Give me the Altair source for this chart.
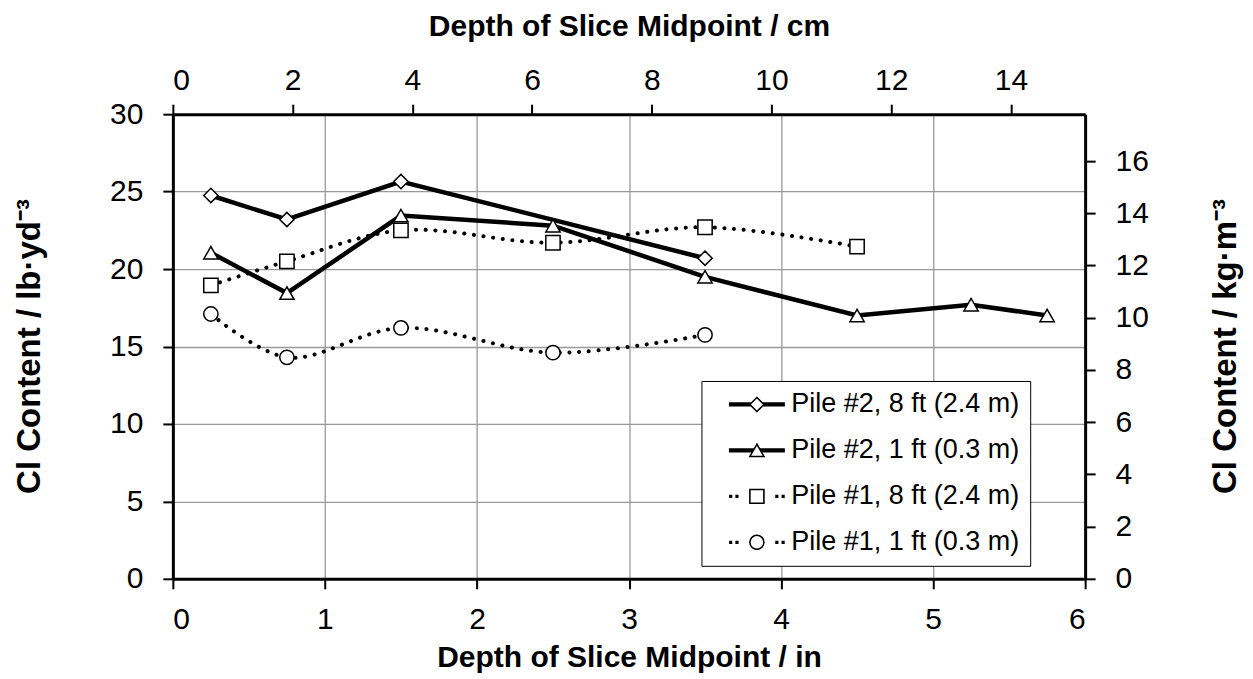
import altair as alt
import pandas as pd

series_names = ["Pile #2, 8 ft (2.4 m)", "Pile #2, 1 ft (0.3 m)",
                "Pile #1, 8 ft (2.4 m)", "Pile #1, 1 ft (0.3 m)"]

p2_8_depth = [0.25, 0.75, 1.5, 3.5]
p2_8_cl = [24.75, 23.2, 25.65, 20.7]
p2_1_depth = [0.25, 0.75, 1.5, 2.5, 3.5, 4.5, 5.25, 5.75]
p2_1_cl = [21.05, 18.45, 23.45, 22.8, 19.5, 17.0, 17.7, 17.0]
p1_8_depth = [0.25, 0.75, 1.5, 2.5, 3.5, 4.5]
p1_8_cl = [18.95, 20.5, 22.5, 21.7, 22.7, 21.45]
p1_1_depth = [0.25, 0.75, 1.5, 2.5, 3.5]
p1_1_cl = [17.1, 14.3, 16.2, 14.6, 15.75]

x_ticks_in = [0, 1, 2, 3, 4, 5, 6]
y_ticks_lb = [0, 5, 10, 15, 20, 25, 30]
x_ticks_cm = [0, 2, 4, 6, 8, 10, 12, 14]
y_ticks_kg = [0, 2, 4, 6, 8, 10, 12, 14, 16]

IN_TO_CM = 2.54
LB_TO_KG = 0.593276

rows = []
for name, xs, ys in zip(series_names,
                        [p2_8_depth, p2_1_depth, p1_8_depth, p1_1_depth],
                        [p2_8_cl, p2_1_cl, p1_8_cl, p1_1_cl]):
    for i, (a, b) in enumerate(zip(xs, ys)):
        rows.append({"series": name, "depth": a, "cl": b, "order": i,
                     "cm": a * IN_TO_CM, "kg": b * LB_TO_KG})
df = pd.DataFrame(rows)

solid_df = df[df["series"].str.startswith("Pile #2")]
dotted_df = df[df["series"].str.startswith("Pile #1")]

FONT = "Liberation Sans"
XDOM = [0, 6]
YDOM = [0, 30]

x_main = alt.X("depth:Q", scale=alt.Scale(domain=XDOM, nice=False),
               axis=alt.Axis(values=x_ticks_in, format="d", grid=True,
                             title="Depth of Slice Midpoint / in",
                             labelPadding=16, titleY=88,
                             titleBaseline="alphabetic"))
y_main = alt.Y("cl:Q", scale=alt.Scale(domain=YDOM, nice=False),
               axis=alt.Axis(values=y_ticks_lb, format="d", grid=True,
                             title="Cl Content / lb·yd⁻³", titleFontSize=33,
                             labelPadding=20, titleAngle=270, titleX=-143,
                             titleY=232, titleBaseline="middle",
                             titleAlign="center"))
x_plain = alt.X("depth:Q", scale=alt.Scale(domain=XDOM, nice=False), axis=None)
y_plain = alt.Y("cl:Q", scale=alt.Scale(domain=YDOM, nice=False), axis=None)

solid = alt.Chart(solid_df).mark_line(
    color="black", strokeWidth=4.5
).encode(x=x_main, y=y_main, detail="series:N", order="order:Q")

dotted = alt.Chart(dotted_df).mark_line(
    color="black", strokeWidth=4, strokeDash=[0.1, 9.6], strokeCap="round",
    interpolate="catmull-rom"
).encode(x=x_plain, y=y_plain, detail="series:N", order="order:Q")

LEG_COMMON = dict(title=None, orient="none", legendX=529, legendY=267,
                  padding=10, symbolSize=196, symbolOffset=32, labelOffset=21,
                  labelFont=FONT, labelFontSize=27, labelColor="black",
                  rowPadding=18, labelLimit=400)

# legend symbol paths (line + marker), in symbol units; commands space-separated
def solid_line(edges):
    e0, em, ep = edges
    return (f"M -4 -0.2 H -{em} M {em} -0.2 H 4 "
            f"M -4 0 H -{e0} M {e0} 0 H 4 "
            f"M -4 0.2 H -{ep} M {ep} 0.2 H 4")

def dots():
    parts = []
    for c in [-3.75, -2.85, 2.85, 3.75]:
        parts.append(f"M {c - 0.12:.2f} -0.12 h 0.24 v 0.24 h -0.24 z")
    return " ".join(parts)

diamond_p = "M 0 -0.95 L 0.95 0 L 0 0.95 L -0.95 0 z"
tri_p = "M 0 -0.82 L 0.95 0.82 L -0.95 0.82 z"
square_p = "M -0.95 -0.95 H 0.95 V 0.95 H -0.95 z"
circle_p = "M 0.95 0 A 0.95 0.95 0 1 1 -0.95 0 A 0.95 0.95 0 1 1 0.95 0 z"

legend_paths = [
    solid_line((0.95, 0.75, 0.75)) + " " + diamond_p,
    solid_line((0.475, 0.36, 0.59)) + " " + tri_p,
    dots() + " " + square_p,
    dots() + " " + circle_p,
]

# layer that only carries the framed legend; its marks fall outside the plot and are clipped
legend_layer = alt.Chart(df).mark_point(
    filled=True, fill="white", stroke="black", strokeWidth=1.5, opacity=1,
    clip=True
).encode(
    x=x_plain,
    y=alt.Y("cl:Q", scale=alt.Scale(domain=[100, 200]), axis=None),
    shape=alt.Shape("series:N",
                    scale=alt.Scale(domain=series_names, range=legend_paths),
                    legend=alt.Legend(strokeColor="black", fillColor="white",
                                      **LEG_COMMON))
)

points = alt.Chart(df).mark_point(
    filled=True, fill="white", stroke="black", strokeWidth=1.5, size=205,
    opacity=1
).encode(
    x=x_plain, y=y_plain,
    shape=alt.Shape("series:N",
                    scale=alt.Scale(domain=series_names,
                                    range=["diamond", "triangle-up", "square", "circle"]),
                    legend=alt.Legend(labelOpacity=0, **LEG_COMMON))
)

secondary = alt.Chart(df).mark_point(opacity=0).encode(
    x=alt.X("cm:Q", scale=alt.Scale(domain=[0, 6 * IN_TO_CM], nice=False),
            axis=alt.Axis(orient="top", values=x_ticks_cm, format="d",
                          grid=False, title="Depth of Slice Midpoint / cm",
                          labelPadding=9, titleY=-79,
                          titleBaseline="alphabetic")),
    y=alt.Y("kg:Q", scale=alt.Scale(domain=[0, 30 * LB_TO_KG], nice=False),
            axis=alt.Axis(orient="right", values=y_ticks_kg, format="d",
                          grid=False, title="Cl Content / kg·m⁻³",
                          titleFontSize=33,
                          labelPadding=20, titleAngle=270, titleX=140,
                          titleY=232, titleBaseline="middle",
                          titleAlign="center")),
)

chart = alt.layer(solid, dotted, legend_layer, points, secondary).resolve_scale(
    x="independent", y="independent", shape="independent"
).properties(
    width=913, height=465,
    padding={"left": 165, "top": 106, "right": 160, "bottom": 100},
    autosize=alt.AutoSizeParams(type="none"),
).configure_view(strokeWidth=0).configure_axis(
    domainColor="black", domainWidth=3, tickColor="black", tickWidth=2,
    tickSize=10, labelFont=FONT, labelFontSize=30, labelColor="black",
    titleFont=FONT, titleFontSize=30, titleFontWeight="bold",
    titleColor="black", gridColor="#999999", gridWidth=1.3,
)

chart.save("out.html", embed_options={"renderer": "svg", "actions": False})
